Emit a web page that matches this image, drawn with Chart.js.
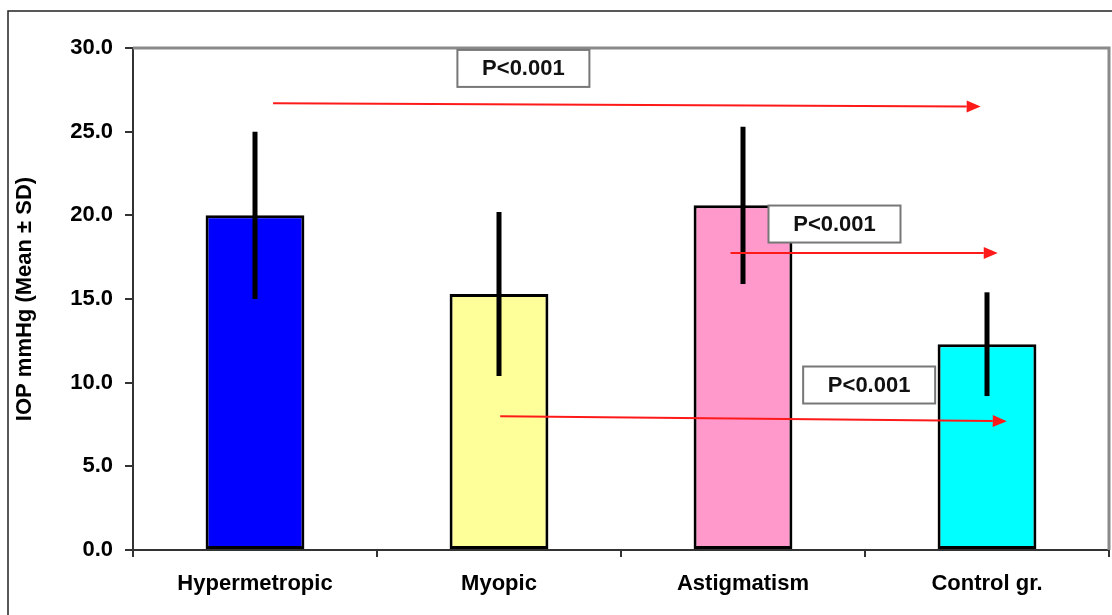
<!DOCTYPE html>
<html>
<head>
<meta charset="utf-8">
<script src="https://cdn.jsdelivr.net/npm/chart.js@4.4.1/dist/chart.umd.min.js"></script>
<style>
    html, body { margin: 0; padding: 0; background: #fff; }
    #wrap { width: 1112px; height: 615px; position: relative; }
</style>
</head>
<body>
<div id="wrap"><canvas id="iopChart"></canvas></div>
<script>
// Chart data
const groups = ['Hypermetropic', 'Myopic', 'Astigmatism', 'Control gr.'];
const meanIop = [20.0, 15.3, 20.6, 12.3];
const sdIop = [5.0, 4.9, 4.7, 3.1];
const barColors = ['#0000ff', '#ffff99', '#ff99cc', '#00ffff'];
const yTicks = [0, 5, 10, 15, 20, 25, 30];

// Comparison arrows in data units: [xStart, yStart, xEnd, yEnd] (x = category index)
const arrows = [
    [0.074, 26.7, 2.974, 26.5],
    [1.949, 17.75, 3.044, 17.75],
    [1.005, 8.0, 3.081, 7.7]
];
// P-value labels: [xCenter, yCenter, text]
const pLabels = [
    [1.10, 28.78, 'P<0.001'],
    [2.375, 19.48, 'P<0.001'],
    [2.517, 9.86, 'P<0.001']
];

const FONT = "'Liberation Sans', Arial, sans-serif";

function xAt(scale, v) {
    const i = Math.floor(v);
    const p0 = scale.getPixelForValue(i);
    const p1 = scale.getPixelForValue(i + 1);
    return p0 + (v - i) * (p1 - p0);
}

// Outer frame and top/right plot borders
const framePlugin = {
    id: 'frame',
    beforeDraw(chart) {
        const ctx = chart.ctx;
        ctx.save();
        ctx.strokeStyle = '#222';
        ctx.lineWidth = 1.5;
        ctx.beginPath();
        ctx.moveTo(8, chart.height);
        ctx.lineTo(8, 11);
        ctx.lineTo(chart.width, 11);
        ctx.stroke();
        ctx.restore();
    },
    afterDraw(chart) {
        const a = chart.chartArea;
        const ctx = chart.ctx;
        ctx.save();
        ctx.strokeStyle = '#8a8a8a';
        ctx.lineWidth = 3;
        ctx.beginPath();
        ctx.moveTo(a.left, a.top);
        ctx.lineTo(a.right, a.top);
        ctx.lineTo(a.right, a.bottom);
        ctx.stroke();
        ctx.restore();
    }
};

// SD whiskers (no caps)
const errorBarPlugin = {
    id: 'errorBars',
    afterDatasetsDraw(chart) {
        const ctx = chart.ctx;
        const y = chart.scales.y;
        const meta = chart.getDatasetMeta(0);
        ctx.save();
        ctx.strokeStyle = '#000';
        ctx.lineWidth = 5;
        meta.data.forEach((bar, i) => {
            ctx.beginPath();
            ctx.moveTo(bar.x, y.getPixelForValue(meanIop[i] + sdIop[i]));
            ctx.lineTo(bar.x, y.getPixelForValue(meanIop[i] - sdIop[i]));
            ctx.stroke();
        });
        ctx.restore();
    }
};

// Red comparison arrows and boxed p-values
const annotationPlugin = {
    id: 'pAnnotations',
    afterDraw(chart) {
        const ctx = chart.ctx;
        const xs = chart.scales.x;
        const ys = chart.scales.y;
        ctx.save();
        arrows.forEach(a => {
            const x1 = xAt(xs, a[0]), y1 = ys.getPixelForValue(a[1]);
            const x2 = xAt(xs, a[2]), y2 = ys.getPixelForValue(a[3]);
            const ang = Math.atan2(y2 - y1, x2 - x1);
            const hl = 14, hw = 6;
            ctx.strokeStyle = '#ff1a1a';
            ctx.lineWidth = 2;
            ctx.beginPath();
            ctx.moveTo(x1, y1);
            ctx.lineTo(x2 - hl * Math.cos(ang), y2 - hl * Math.sin(ang));
            ctx.stroke();
            ctx.fillStyle = '#ff1a1a';
            ctx.beginPath();
            ctx.moveTo(x2, y2);
            ctx.lineTo(x2 - hl * Math.cos(ang) + hw * Math.sin(ang), y2 - hl * Math.sin(ang) - hw * Math.cos(ang));
            ctx.lineTo(x2 - hl * Math.cos(ang) - hw * Math.sin(ang), y2 - hl * Math.sin(ang) + hw * Math.cos(ang));
            ctx.closePath();
            ctx.fill();
        });
        pLabels.forEach(p => {
            const cx = xAt(xs, p[0]), cy = ys.getPixelForValue(p[1]);
            const w = 132, h = 37;
            ctx.fillStyle = '#fff';
            ctx.fillRect(cx - w / 2, cy - h / 2, w, h);
            ctx.strokeStyle = '#777';
            ctx.lineWidth = 2;
            ctx.strokeRect(cx - w / 2, cy - h / 2, w, h);
            ctx.fillStyle = '#111';
            ctx.font = 'bold 22px ' + FONT;
            ctx.textAlign = 'center';
            ctx.textBaseline = 'middle';
            ctx.fillText(p[2], cx, cy + 1);
        });
        ctx.restore();
    }
};

new Chart(document.getElementById('iopChart'), {
    type: 'bar',
    data: {
        labels: groups,
        datasets: [{
            data: meanIop,
            backgroundColor: barColors,
            borderColor: '#000',
            borderWidth: 3,
            borderSkipped: false,
            categoryPercentage: 1.0,
            barPercentage: 0.405
        }]
    },
    options: {
        responsive: true,
        maintainAspectRatio: false,
        animation: false,
        layout: { padding: { left: 8, top: 48, right: 3, bottom: 0 } },
        plugins: {
            legend: { display: false },
            tooltip: { enabled: false }
        },
        scales: {
            x: {
                grid: {
                    display: true,
                    drawOnChartArea: false,
                    drawTicks: true,
                    tickLength: 7,
                    color: '#333',
                    lineWidth: 2
                },
                border: { color: '#333', width: 2 },
                ticks: {
                    color: '#000',
                    padding: 14,
                    font: { family: FONT, size: 22, weight: 'bold' }
                },
                afterFit(scale) { scale.height = 65; }
            },
            y: {
                min: 0,
                max: 30,
                afterBuildTicks(scale) {
                    scale.ticks = yTicks.map(v => ({ value: v }));
                },
                grid: {
                    display: true,
                    drawOnChartArea: false,
                    drawTicks: true,
                    tickLength: 8,
                    color: '#333',
                    lineWidth: 2
                },
                border: { color: '#333', width: 2 },
                ticks: {
                    color: '#000',
                    padding: 12,
                    font: { family: FONT, size: 22, weight: 'bold' },
                    callback: v => Number(v).toFixed(1)
                },
                title: {
                    display: true,
                    text: 'IOP mmHg (Mean ± SD)',
                    color: '#000',
                    padding: { top: 4, bottom: 0 },
                    font: { family: FONT, size: 22, weight: 'bold' }
                },
                afterFit(scale) { scale.width = 125; }
            }
        }
    },
    plugins: [framePlugin, errorBarPlugin, annotationPlugin]
});
</script>
</body>
</html>
